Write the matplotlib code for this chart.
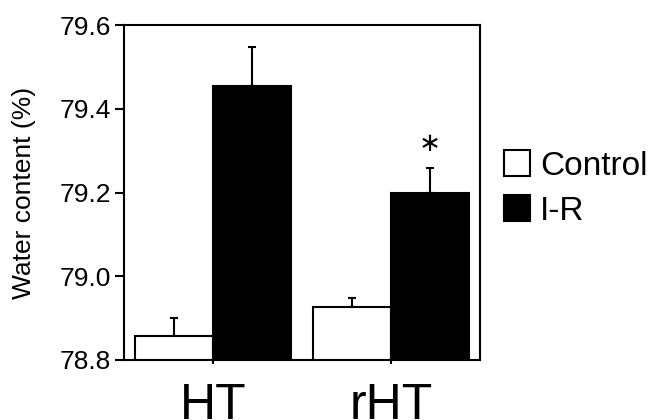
import matplotlib
matplotlib.use("Agg")
import matplotlib.pyplot as plt
import numpy as np

plt.rcParams['font.family'] = ['Liberation Sans', 'DejaVu Sans']

groups = ['HT', 'rHT']
control_mean = [78.858, 78.927]
control_err = [0.043, 0.022]
ir_mean = [79.455, 79.200]
ir_err = [0.093, 0.059]
tick_vals = [78.8, 79.0, 79.2, 79.4, 79.6]

fig = plt.figure(figsize=(6.51, 4.20), dpi=100)
ax = fig.add_axes([0.191, 0.143, 0.546, 0.797])

x = np.arange(len(groups))
w = 0.44
lw = 1.5

ax.bar(x - w / 2, control_mean, w, color='white', edgecolor='black',
       linewidth=lw, label='Control', zorder=2)
ax.bar(x + w / 2, ir_mean, w, color='black', edgecolor='black',
       linewidth=lw, label='I-R', zorder=2)

# upper error bars only
ax.errorbar(x - w / 2, control_mean, yerr=[np.zeros(2), control_err], fmt='none',
            ecolor='black', elinewidth=lw, capsize=3, capthick=lw, zorder=1)
ax.errorbar(x + w / 2, ir_mean, yerr=[np.zeros(2), ir_err], fmt='none',
            ecolor='black', elinewidth=lw, capsize=3, capthick=lw, zorder=1)

# significance mark
ax.text(x[1] + w / 2, ir_mean[1] + ir_err[1] + 0.056, '\u2217', ha='center', va='center',
        fontsize=19, family='DejaVu Sans')

ax.set_ylim(78.8, 79.6)
ax.set_xlim(-0.5, 1.5)
ax.set_yticks(tick_vals)
ax.set_yticklabels([f'{v:.1f}' for v in tick_vals], fontsize=19)
ax.set_xticks(x)
ax.set_xticklabels(groups, fontsize=36)
ax.tick_params(axis='y', direction='out', length=6.5, width=lw, pad=3)
ax.tick_params(axis='x', direction='out', length=3, width=lw, pad=13.5)
for s in ax.spines.values():
    s.set_linewidth(lw)

ax.set_ylabel('Water content (%)', fontsize=19, labelpad=17)

ax.legend(loc='center left', bbox_to_anchor=(1.03, 0.512), frameon=False,
          fontsize=24, handlelength=0.8, handleheight=0.8, handletextpad=0.29,
          labelspacing=0.41, borderaxespad=0)

fig.savefig('out.png', dpi=100)
